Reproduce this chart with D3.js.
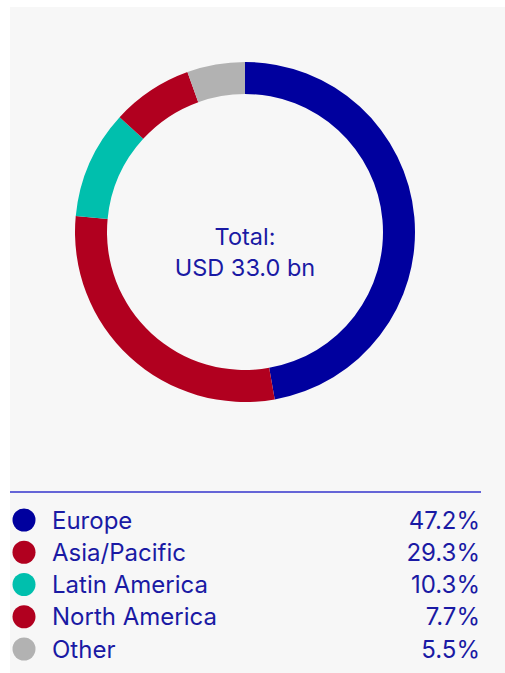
<!DOCTYPE html>
<html><head><meta charset="utf-8">
<script src="https://cdn.jsdelivr.net/npm/d3@7"></script>
<style>
html,body{margin:0;padding:0;background:#fff;}
svg{display:block;}
text{font-family:Inter,"Liberation Sans",sans-serif;}
</style></head>
<body>
<svg id="c" width="505" height="673"></svg>
<script>
const categories = ["Europe","Asia/Pacific","Latin America","North America","Other"];
const shares = [47.2, 29.3, 10.3, 7.7, 5.5];
const labels = ["47.2%","29.3%","10.3%","7.7%","5.5%"];
const colors = ["#00009e","#b1001f","#00bfad","#b1001f","#b2b2b2"];
const centerLines = ["Total:","USD 33.0 bn"];

const svg = d3.select("#c");
const textColor = "#1a1aa4";
svg.append("rect").attr("x",10).attr("y",7).attr("width",495).attr("height",666).attr("fill","#f7f7f7");

const cx = 245, cy = 232, rOut = 170, rIn = 138;
const pie = d3.pie().sort(null).value(d=>d.v);
const data = pie(categories.map((c,i)=>({c, v:shares[i], col:colors[i]})));
const arc = d3.arc().innerRadius(rIn).outerRadius(rOut);
const g = svg.append("g").attr("transform",`translate(${cx},${cy})`);
g.selectAll("path").data(data).join("path").attr("d",arc).attr("fill",d=>d.data.col);

g.selectAll("text.center").data(centerLines).join("text")
  .attr("class","center").attr("text-anchor","middle")
  .attr("y",(d,i)=>13 + i*31).attr("font-size",23.5).attr("fill",textColor).text(d=>d);

svg.append("line").attr("x1",10).attr("x2",481).attr("y1",492).attr("y2",492)
  .attr("stroke","#3535cc").attr("stroke-width",1.5);

const y = d3.scalePoint().domain(categories).range([520,649]);
const leg = svg.append("g").selectAll("g").data(categories).join("g")
  .attr("transform",d=>`translate(0,${y(d)})`);
leg.append("circle").attr("cx",24).attr("cy",0).attr("r",11.5).attr("fill",(d,i)=>colors[i]);
leg.append("text").attr("x",52).attr("y",8.5).attr("font-size",24).attr("fill",textColor).text(d=>d);
leg.append("text").attr("x",480).attr("y",8.5).attr("text-anchor","end").attr("font-size",24).attr("fill",textColor).text((d,i)=>labels[i]);
</script>
</body></html>
